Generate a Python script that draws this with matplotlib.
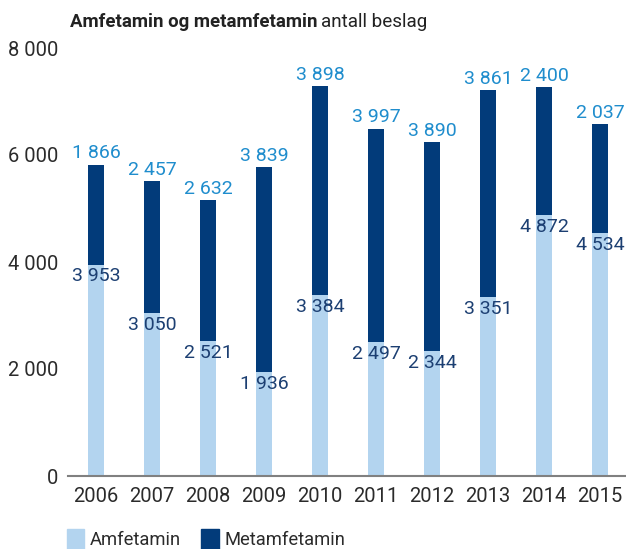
import matplotlib
matplotlib.use('Agg')
import matplotlib.pyplot as plt
import numpy as np
from matplotlib.patches import Patch

# data
years = ['2006', '2007', '2008', '2009', '2010', '2011', '2012', '2013', '2014', '2015']
amfetamin = [3953, 3050, 2521, 1936, 3384, 2497, 2344, 3351, 4872, 4534]
metamfetamin = [1866, 2457, 2632, 3839, 3898, 3997, 3890, 3861, 2400, 2037]
yticks = [0, 2000, 4000, 6000, 8000]

LIGHT = '#b3d4ef'
DARK = '#023b7a'
TOP_TXT = '#1f8dcd'
BOT_TXT = '#1c3f72'
TXT = '#2b2b2b'

plt.rcParams['font.family'] = ['Roboto', 'DejaVu Sans']


def fmt(v):
    return f"{v:,}".replace(',', ' ')


W, H = 626, 549
fig = plt.figure(figsize=(W / 100, H / 100), dpi=100)
ax = fig.add_axes([68 / W, 73 / H, 1 - 68 / W, (476 - 48) / H])

x = np.arange(len(years))
ax.bar(x, amfetamin, width=0.29, color=LIGHT)
ax.bar(x, metamfetamin, width=0.29, bottom=amfetamin, color=DARK)

# value labels: amfetamin just inside the light bar, metamfetamin above the stack
for xi, a, m in zip(x, amfetamin, metamfetamin):
    ax.annotate(fmt(a), (xi, a), xytext=(0, -8.6), textcoords='offset points',
                ha='center', va='center', fontsize=14, color=BOT_TXT)
    ax.annotate(fmt(m), (xi, a + m), xytext=(0, 8.2), textcoords='offset points',
                ha='center', va='center', fontsize=14, color=TOP_TXT)

ax.set_xlim(-0.5, 9.46)
ax.set_ylim(0, 8000)
ax.set_xticks(x)
ax.set_xticklabels(years)
ax.set_yticks(yticks)
ax.set_yticklabels([fmt(v) for v in yticks])
ax.tick_params(axis='both', length=0, labelsize=14.5, colors=TXT)
ax.tick_params(axis='y', pad=7)
ax.tick_params(axis='x', pad=8)
for s in ['top', 'right', 'left']:
    ax.spines[s].set_visible(False)
ax.spines['bottom'].set_color('#808080')
ax.spines['bottom'].set_linewidth(1.5)

# title: bold part followed by regular part
t1 = fig.text(70 / W, 1 - 27 / H, 'Amfetamin og metamfetamin', fontsize=13.4,
              fontweight='bold', color='#222222', va='baseline', ha='left')
fig.canvas.draw()
bb = t1.get_window_extent()
fig.text(bb.x1 / W + 4 / W, 1 - 27 / H, 'antall beslag', fontsize=13.6,
         color='#222222', va='baseline', ha='left')

handles = [Patch(color=LIGHT), Patch(color=DARK)]
fig.legend(handles, ['Amfetamin', 'Metamfetamin'], loc='lower left',
           bbox_to_anchor=(67 / W, 0), ncol=2, frameon=False, fontsize=13.2,
           handlelength=0.95, handleheight=1.3, handletextpad=0.3,
           columnspacing=1.1, borderaxespad=0, borderpad=0.0,
           labelcolor=TXT)

fig.savefig('out.png', dpi=100)
